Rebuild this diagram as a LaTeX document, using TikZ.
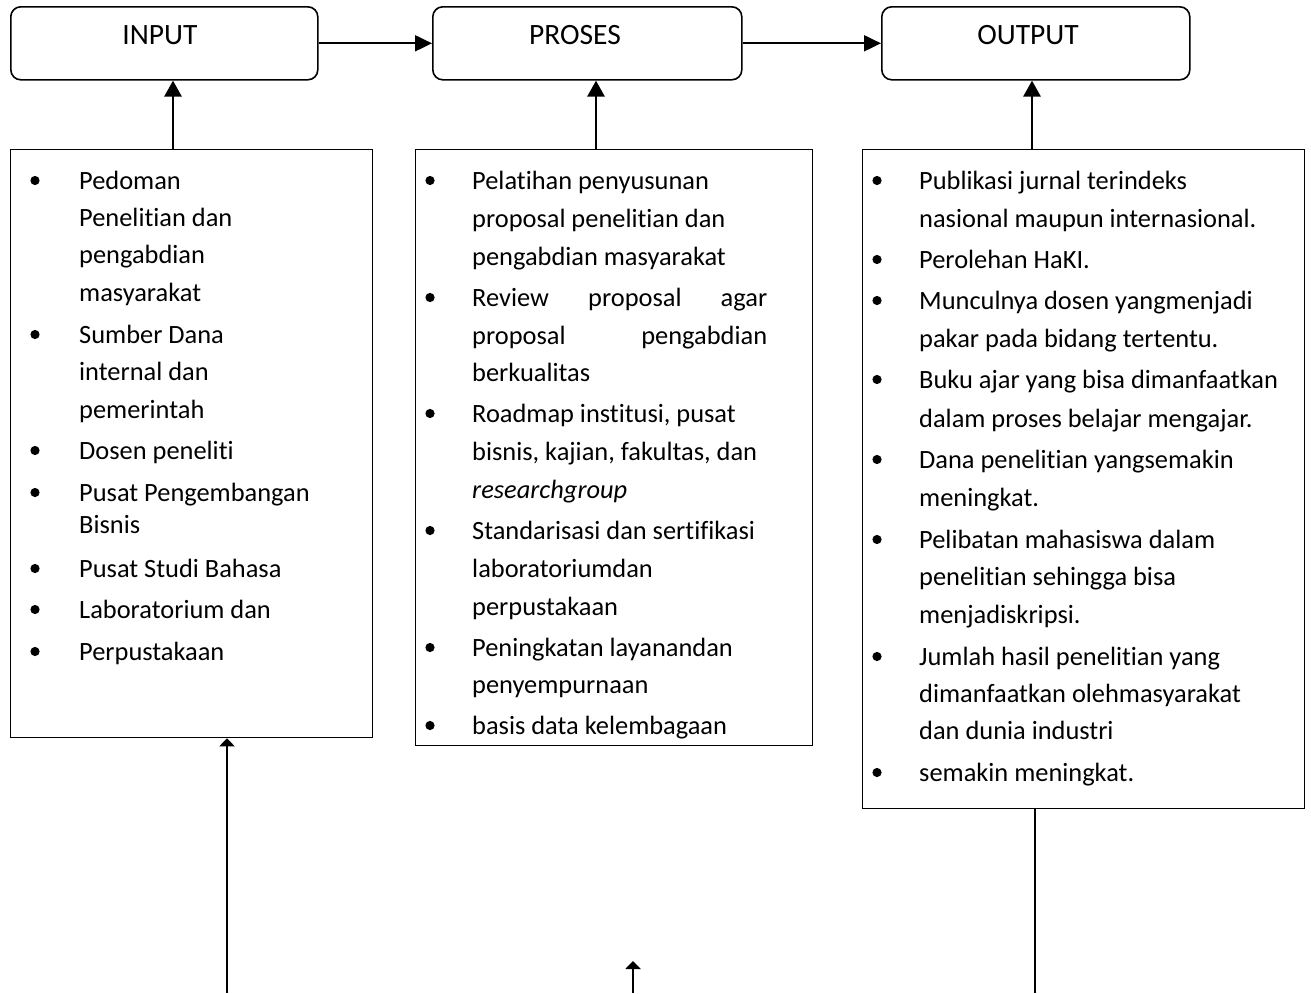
\documentclass[tikz,border=0pt]{standalone}
\usepackage{fontspec}
\setmainfont{Carlito}[Ligatures={NoCommon}]
\usetikzlibrary{arrows.meta}
\newcommand\txl[4]{\node[itm] (#1) at (#2,#3) {#4};}
\newcommand\bul[2]{\fill (#1,#2-8.5) circle (4.6);}
\begin{document}
\begin{tikzpicture}[x=1pt,y=-1pt,
  hd/.style={draw,line width=1.6pt,rounded corners=10pt,anchor=north west,inner sep=0pt},
  lst/.style={draw,line width=1.3pt,anchor=north west,inner sep=0pt},
  ttl/.style={font=\fontsize{29.5}{30}\selectfont,anchor=base,inner sep=0pt},
  itm/.style={font=\fontsize{26.4}{30}\selectfont,anchor=base west,inner sep=0pt},
  harrow/.style={line width=2pt,-{Triangle[length=17pt,width=16pt]}},
  varrow/.style={line width=2.8pt,-{Triangle[length=16pt,width=17pt]}},
  barrow/.style={line width=2.2pt,-{Triangle[length=8pt,width=15pt]}},
  bline/.style={line width=2.2pt}]
\useasboundingbox (0,0) rectangle (1311,993);
% header boxes
\node[hd,minimum width=307pt,minimum height=73pt] (in) at (10,6) {};
\node[hd,minimum width=309pt,minimum height=73pt] (pr) at (432,6) {};
\node[hd,minimum width=308pt,minimum height=73pt] (out) at (881,6) {};
\node[ttl] (tin) at (160,44) {INPUT};
\node[ttl] (tpr) at (575,44) {PROSES};
\node[ttl] (tout) at (1028,44) {OUTPUT};
% list boxes
\node[lst,minimum width=362pt,minimum height=588pt] (lin) at (10,149) {};
\node[lst,minimum width=397pt,minimum height=596pt] (lpr) at (415,149) {};
\node[lst,minimum width=442pt,minimum height=659pt] (lout) at (862,149) {};
% connectors
\draw[harrow] (in.east) -- (pr.west);
\draw[harrow] (pr.east) -- (out.west);
\coordinate (a1) at (173,0);
\coordinate (a2) at (596,0);
\coordinate (a3) at (1032,0);
\draw[varrow] (lin.north -| a1) -- (in.south -| a1);
\draw[varrow] (lpr.north -| a2) -- (pr.south -| a2);
\draw[varrow] (lout.north -| a3) -- (out.south -| a3);
\coordinate (b1) at (227,993);
\coordinate (b2) at (633,993);
\coordinate (b2t) at (633,961);
\coordinate (b3) at (1035,993);
\draw[barrow] (b1) -- (lin.south -| b1);
\draw[barrow] (b2) -- (b2t);
\draw[bline] (lout.south -| b3) -- (b3);
% INPUT list
\bul{35}{189}\txl{i1}{79}{189}{Pedoman}
\txl{i2}{79}{226}{Penelitian dan}
\txl{i3}{79}{263}{pengabdian}
\txl{i4}{79}{301}{masyarakat}
\bul{35}{343}\txl{i5}{79}{343}{Sumber Dana}
\txl{i6}{79}{380}{internal dan}
\txl{i7}{79}{418}{pemerintah}
\bul{35}{459}\txl{i8}{79}{459}{Dosen peneliti}
\bul{35}{501}\txl{i9}{79}{501}{Pusat Pengembangan}
\txl{i10}{79}{533}{Bisnis}
\bul{35}{577}\txl{i11}{79}{577}{Pusat Studi Bahasa}
\bul{35}{618}\txl{i12}{79}{618}{Laboratorium dan}
\bul{35}{660}\txl{i13}{79}{660}{Perpustakaan}
% PROSES list
\bul{430}{189}\txl{p1}{472}{189}{Pelatihan penyusunan}
\txl{p2}{472}{227}{proposal penelitian dan}
\txl{p3}{472}{265}{pengabdian masyarakat}
\bul{430}{306}\txl{p4}{472}{306}{\makebox[295pt][s]{Review proposal agar}}
\txl{p5}{472}{344}{\makebox[295pt][s]{proposal pengabdian}}
\txl{p6}{472}{381}{berkualitas}
\bul{430}{422}\txl{p7}{472}{422}{Roadmap institusi, pusat}
\txl{p8}{472}{460}{bisnis, kajian, fakultas, dan}
\txl{p9}{472}{498}{\textit{researchgroup}}
\bul{430}{539}\txl{p10}{472}{539}{Standarisasi dan sertifikasi}
\txl{p11}{472}{577}{laboratoriumdan}
\txl{p12}{472}{615}{perpustakaan}
\bul{430}{656}\txl{p13}{472}{656}{Peningkatan layanandan}
\txl{p14}{472}{693}{penyempurnaan}
\bul{430}{734}\txl{p15}{472}{734}{basis data kelembagaan}
% OUTPUT list
\bul{877}{189}\txl{o1}{919}{189}{Publikasi jurnal terindeks}
\txl{o2}{919}{227}{nasional maupun internasional.}
\bul{877}{268}\txl{o3}{919}{268}{Perolehan HaKI.}
\bul{877}{309}\txl{o4}{919}{309}{Munculnya dosen yangmenjadi}
\txl{o5}{919}{347}{pakar pada bidang tertentu.}
\bul{877}{388}\txl{o6}{919}{388}{Buku ajar yang bisa dimanfaatkan}
\txl{o7}{919}{427}{dalam proses belajar mengajar.}
\bul{877}{468}\txl{o8}{919}{468}{Dana penelitian yangsemakin}
\txl{o9}{919}{506}{meningkat.}
\bul{877}{548}\txl{o10}{919}{548}{Pelibatan mahasiswa dalam}
\txl{o11}{919}{585}{penelitian sehingga bisa}
\txl{o12}{919}{623}{menjadiskripsi.}
\bul{877}{665}\txl{o13}{919}{665}{Jumlah hasil penelitian yang}
\txl{o14}{919}{702}{dimanfaatkan olehmasyarakat}
\txl{o15}{919}{739}{dan dunia industri}
\bul{877}{781}\txl{o16}{919}{781}{semakin meningkat.}
\end{tikzpicture}
\end{document}
